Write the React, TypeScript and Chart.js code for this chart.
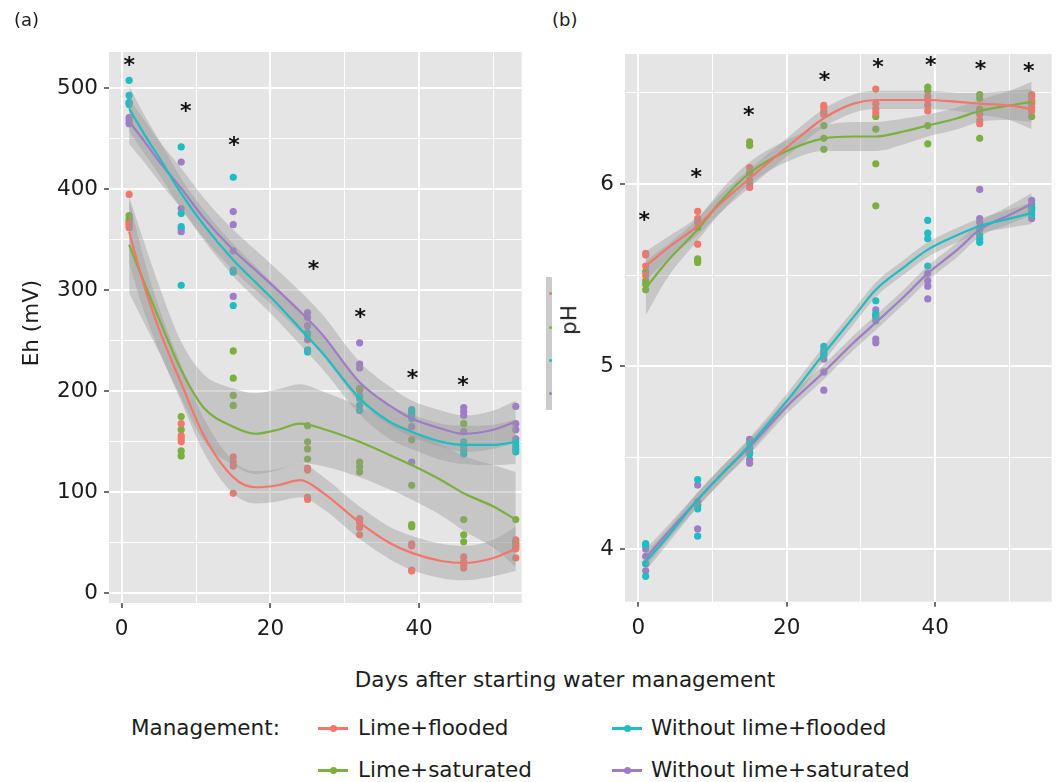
import React, { useEffect, useRef } from "react";
import { Chart, registerables } from "chart.js";

Chart.register(...registerables);

const FONT = "'DejaVu Sans', sans-serif";
const TEXT = "#1c1c1c";
const PANEL_BG = "#E5E5E5";
const BAND = "rgba(153,153,153,0.4)";
const FS = 21.5;

const groupNames = ["Lime+flooded", "Lime+saturated", "Without lime+flooded", "Without lime+saturated"];
const groupColors = ["#F3766B", "#7BAF3E", "#1DBDC2", "#9D7CC8"];

// sampling days (x of the points)
const sampleDays = [1, 8, 15, 25, 32, 39, 46, 53];

// ---- Panel (a): Eh (mV), 4 replicates per day ----
const ehLimeFlooded = [
  [395, 366, 364, 362], [168, 156, 153, 150], [135, 130, 126, 99], [124, 122, 95, 93],
  [74, 70, 65, 58], [49, 47, 23, 22], [36, 31, 28, 25], [53, 46, 44, 35],
];
const ehLimeSaturated = [
  [374, 371, 369, 367], [175, 162, 141, 136], [240, 213, 196, 186], [166, 150, 143, 133],
  [203, 130, 125, 120], [152, 107, 68, 66], [168, 73, 58, 51], [73, 51, 49, 47],
];
const ehNoLimeFlooded = [
  [508, 493, 486, 484], [442, 376, 363, 305], [412, 320, 318, 285], [258, 256, 241, 239],
  [195, 193, 186, 181], [182, 179, 176, 173], [150, 145, 141, 138], [150, 146, 143, 140],
];
const ehNoLimeSaturated = [
  [486, 471, 468, 465], [427, 381, 361, 358], [378, 365, 339, 294], [278, 273, 265, 251],
  [248, 227, 223, 201], [180, 177, 165, 130], [184, 180, 176, 160], [185, 168, 162, 153],
];

// smoothed (loess) curves, with band half-widths
const ehFitDays = [1, 3, 5, 8, 11, 15, 18, 21, 24, 27, 32, 36, 39, 43, 46, 50, 53];
const ehFitLimeFlooded = [358, 305, 262, 208, 157, 115, 105, 107, 112, 100, 70, 50, 40, 32, 30, 35, 44];
const ehFitLimeSaturated = [345, 308, 272, 221, 184, 165, 158, 162, 168, 163, 150, 137, 127, 112, 99, 86, 73];
const ehFitNoLimeFlooded = [480, 455, 432, 396, 365, 330, 308, 286, 262, 238, 193, 170, 160, 150, 147, 147, 150];
const ehFitNoLimeSaturated = [467, 448, 428, 401, 372, 340, 320, 300, 279, 256, 209, 186, 173, 163, 158, 162, 170];
const ehSeLimeFlooded = [32, 26, 21, 18, 17, 16, 16, 16, 17, 16, 16, 16, 17, 17, 17, 18, 22];
const ehSeLimeSaturated = [48, 40, 33, 28, 33, 38, 40, 40, 39, 37, 35, 34, 34, 35, 37, 41, 47];
const ehSeNoLimeFlooded = [22, 19, 17, 15, 15, 16, 16, 16, 16, 16, 16, 17, 17, 18, 19, 20, 22];
const ehSeNoLimeSaturated = [22, 21, 20, 20, 20, 20, 20, 20, 20, 20, 20, 19, 18, 18, 18, 19, 21];

const ehStarDays = [1.0, 8.6, 15.1, 25.8, 32.1, 39.1, 45.9];
const ehStarValues = [529, 483, 449, 327, 279, 219, 212];

// ---- Panel (b): pH ----
const phLimeFlooded = [
  [5.62, 5.61, 5.55, 5.5], [5.85, 5.81, 5.79, 5.67], [6.09, 6.06, 6.0, 5.98], [6.43, 6.42, 6.4, 6.38],
  [6.52, 6.44, 6.41, 6.39], [6.48, 6.46, 6.43, 6.4], [6.4, 6.38, 6.35, 6.33], [6.49, 6.46, 6.42, 6.4],
];
const phLimeSaturated = [
  [5.52, 5.47, 5.45, 5.42], [5.76, 5.59, 5.58, 5.57], [6.23, 6.21, 6.06, 6.02], [6.39, 6.32, 6.25, 6.19],
  [6.37, 6.3, 6.11, 5.88], [6.53, 6.51, 6.32, 6.22], [6.49, 6.47, 6.41, 6.25], [6.48, 6.45, 6.44, 6.37],
];
const phNoLimeFlooded = [
  [4.03, 4.02, 3.92, 3.85], [4.38, 4.24, 4.22, 4.07], [4.58, 4.55, 4.53, 4.52], [5.11, 5.09, 5.08, 5.06],
  [5.36, 5.29, 5.28, 5.27], [5.8, 5.73, 5.7, 5.55], [5.75, 5.72, 5.7, 5.68], [5.87, 5.86, 5.85, 5.83],
];
const phNoLimeSaturated = [
  [4.0, 3.96, 3.92, 3.88], [4.35, 4.26, 4.24, 4.11], [4.6, 4.55, 4.49, 4.47], [5.07, 5.04, 4.97, 4.87],
  [5.31, 5.25, 5.15, 5.13], [5.51, 5.47, 5.44, 5.37], [5.97, 5.81, 5.79, 5.76], [5.91, 5.89, 5.87, 5.81],
];

const phFitDays = [1, 4, 8, 11, 15, 20, 25, 29, 32, 36, 39, 43, 46, 50, 53];
const phFitLimeFlooded = [5.55, 5.65, 5.77, 5.89, 6.03, 6.2, 6.36, 6.44, 6.46, 6.46, 6.46, 6.45, 6.44, 6.43, 6.41];
const phFitLimeSaturated = [5.43, 5.58, 5.75, 5.9, 6.06, 6.18, 6.25, 6.26, 6.26, 6.29, 6.32, 6.36, 6.4, 6.43, 6.45];
const phFitNoLimeFlooded = [3.93, 4.07, 4.27, 4.4, 4.57, 4.81, 5.07, 5.27, 5.42, 5.55, 5.64, 5.72, 5.77, 5.81, 5.84];
const phFitNoLimeSaturated = [3.95, 4.09, 4.27, 4.4, 4.56, 4.78, 4.97, 5.13, 5.24, 5.39, 5.51, 5.64, 5.75, 5.83, 5.89];
const phSeLimeFlooded = [0.08, 0.06, 0.05, 0.05, 0.05, 0.05, 0.05, 0.05, 0.05, 0.05, 0.05, 0.05, 0.06, 0.08, 0.11];
const phSeLimeSaturated = [0.15, 0.09, 0.06, 0.06, 0.06, 0.06, 0.07, 0.08, 0.08, 0.07, 0.06, 0.06, 0.06, 0.08, 0.11];
const phSeNoLimeFlooded = [0.05, 0.04, 0.04, 0.04, 0.04, 0.04, 0.04, 0.04, 0.04, 0.04, 0.04, 0.04, 0.04, 0.05, 0.06];
const phSeNoLimeSaturated = [0.05, 0.04, 0.04, 0.04, 0.04, 0.04, 0.04, 0.04, 0.04, 0.04, 0.04, 0.04, 0.04, 0.05, 0.06];

const phStarDays = [0.8, 7.8, 14.9, 25.1, 32.3, 39.4, 46.1, 52.6];
const phStarValues = [5.83, 6.07, 6.41, 6.6, 6.67, 6.68, 6.66, 6.65];

// ---- ticks ----
const xMajorTicks = [0, 20, 40];
const xMinorTicks = [10, 30, 50];
const ehMajorTicks = [0, 100, 200, 300, 400, 500];
const ehMinorTicks = [50, 150, 250, 350, 450];
const phMajorTicks = [4, 5, 6];
const phMinorTicks = [4.5, 5.5, 6.5];

function buildDatasets(points: number[][][], fits: number[][], ses: number[][], fitDays: number[]) {
  const ds: any[] = [];
  points.forEach((grp, g) => {
    const data: any[] = [];
    grp.forEach((reps, i) => reps.forEach((v) => data.push({ x: sampleDays[i], y: v })));
    ds.push({
      data,
      showLine: false,
      pointRadius: 3.6,
      pointBackgroundColor: groupColors[g],
      pointBorderColor: groupColors[g],
      pointBorderWidth: 0,
      borderColor: "transparent",
      fill: false,
      order: 3,
    });
  });
  fits.forEach((fit, g) => {
    const se = ses[g];
    ds.push({
      data: fitDays.map((d, i) => ({ x: d, y: fit[i] + se[i] })),
      fill: "+1",
      backgroundColor: BAND,
      borderColor: "transparent",
      borderWidth: 0,
      pointRadius: 0,
      cubicInterpolationMode: "monotone",
      order: 2,
    });
    ds.push({
      data: fitDays.map((d, i) => ({ x: d, y: fit[i] - se[i] })),
      fill: false,
      borderColor: "transparent",
      borderWidth: 0,
      pointRadius: 0,
      cubicInterpolationMode: "monotone",
      order: 2,
    });
  });
  fits.forEach((fit, g) => {
    ds.push({
      data: fitDays.map((d, i) => ({ x: d, y: fit[i] })),
      fill: false,
      borderColor: groupColors[g],
      borderWidth: 2.2,
      pointRadius: 0,
      cubicInterpolationMode: "monotone",
      order: 1,
    });
  });
  return ds;
}

const bgPlugin = {
  id: "panelBg",
  beforeDraw(chart: any) {
    const { ctx, chartArea: a } = chart;
    ctx.save();
    ctx.fillStyle = PANEL_BG;
    ctx.fillRect(a.left, a.top, a.right - a.left, a.bottom - a.top);
    ctx.restore();
  },
};

function starPlugin(xs: number[], ys: number[]) {
  return {
    id: "stars",
    afterDatasetsDraw(chart: any) {
      const { ctx, scales } = chart;
      ctx.save();
      ctx.font = `bold 22px ${FONT}`;
      ctx.fillStyle = "#111";
      ctx.textAlign = "center";
      ctx.textBaseline = "alphabetic";
      xs.forEach((d, i) => {
        ctx.fillText("*", scales.x.getPixelForValue(d), scales.y.getPixelForValue(ys[i]) + 12.5);
      });
      ctx.restore();
    },
  };
}

function makeConfig(o: any) {
  const allX = [...xMajorTicks, ...xMinorTicks].sort((a, b) => a - b);
  const allY = [...o.yMajor, ...o.yMinor].sort((a: number, b: number) => a - b);
  const isMajorX = (v: number) => xMajorTicks.includes(v);
  const isMajorY = (v: number) => o.yMajor.includes(v);
  return {
    type: "line",
    data: { datasets: buildDatasets(o.points, o.fits, o.ses, o.fitDays) },
    options: {
      animation: false,
      responsive: false,
      devicePixelRatio: 1,
      events: [],
      layout: { autoPadding: false, padding: { top: o.padTop, right: o.padRight, left: 0, bottom: 0 } },
      plugins: { legend: { display: false }, tooltip: { enabled: false } },
      scales: {
        x: {
          type: "linear",
          min: o.xMin,
          max: o.xMax,
          afterBuildTicks: (s: any) => {
            s.ticks = allX.map((v) => ({ value: v }));
          },
          afterFit: (s: any) => {
            s.height = o.xAxisHeight;
          },
          ticks: {
            autoSkip: false,
            maxRotation: 0,
            padding: 9,
            color: TEXT,
            font: { family: FONT, size: FS },
            callback: (v: number) => (isMajorX(v) ? String(v) : ""),
          },
          grid: {
            color: "#FFFFFF",
            lineWidth: (c: any) => (c.tick && isMajorX(c.tick.value) ? 2 : 1),
            tickColor: (c: any) => (c.tick && isMajorX(c.tick.value) ? "#333" : "transparent"),
            tickLength: 5,
            tickWidth: 1.4,
          },
          border: { display: false },
        },
        y: {
          type: "linear",
          min: o.yMin,
          max: o.yMax,
          afterBuildTicks: (s: any) => {
            s.ticks = allY.map((v: number) => ({ value: v }));
          },
          afterFit: (s: any) => {
            s.width = o.yAxisWidth;
          },
          ticks: {
            autoSkip: false,
            padding: 6,
            color: TEXT,
            font: { family: FONT, size: FS },
            callback: (v: number) => (isMajorY(v) ? String(v) : ""),
          },
          grid: {
            color: "#FFFFFF",
            lineWidth: (c: any) => (c.tick && isMajorY(c.tick.value) ? 2 : 1),
            tickColor: (c: any) => (c.tick && isMajorY(c.tick.value) ? "#333" : "transparent"),
            tickLength: 5,
            tickWidth: 1.4,
          },
          border: { display: false },
        },
      },
    },
    plugins: [bgPlugin, starPlugin(o.starDays, o.starValues)],
  };
}

function PanelChart({ o, left, width, height }: any) {
  const ref = useRef<HTMLCanvasElement | null>(null);
  useEffect(() => {
    if (!ref.current) return;
    const chart = new Chart(ref.current, makeConfig(o) as any);
    return () => chart.destroy();
  }, []);
  return (
    <canvas
      ref={ref}
      width={width}
      height={height}
      style={{ position: "absolute", left, top: 0, width, height }}
    />
  );
}

const panelA = {
  points: [ehLimeFlooded, ehLimeSaturated, ehNoLimeFlooded, ehNoLimeSaturated],
  fits: [ehFitLimeFlooded, ehFitLimeSaturated, ehFitNoLimeFlooded, ehFitNoLimeSaturated],
  ses: [ehSeLimeFlooded, ehSeLimeSaturated, ehSeNoLimeFlooded, ehSeNoLimeSaturated],
  fitDays: ehFitDays,
  starDays: ehStarDays,
  starValues: ehStarValues,
  yMajor: ehMajorTicks,
  yMinor: ehMinorTicks,
  xMin: -1.71,
  xMax: 53.8,
  yMin: -9.6,
  yMax: 536,
  padTop: 52,
  padRight: 13.3,
  yAxisWidth: 109,
  xAxisHeight: 57,
};

const panelB = {
  points: [phLimeFlooded, phLimeSaturated, phNoLimeFlooded, phNoLimeSaturated],
  fits: [phFitLimeFlooded, phFitLimeSaturated, phFitNoLimeFlooded, phFitNoLimeSaturated],
  ses: [phSeLimeFlooded, phSeLimeSaturated, phSeNoLimeFlooded, phSeNoLimeSaturated],
  fitDays: phFitDays,
  starDays: phStarDays,
  starValues: phStarValues,
  yMajor: phMajorTicks,
  yMinor: phMinorTicks,
  xMin: -1.79,
  xMax: 55.7,
  yMin: 3.711,
  yMax: 6.712,
  padTop: 54,
  padRight: 7.3,
  yAxisWidth: 45,
  xAxisHeight: 58.3,
};

const txt = (extra: any) => ({
  position: "absolute" as const,
  fontFamily: FONT,
  fontSize: FS,
  lineHeight: 1,
  color: TEXT,
  whiteSpace: "nowrap" as const,
  ...extra,
});

function LegendKey({ x, y, color }: any) {
  return (
    <>
      <div style={{ position: "absolute", left: x, top: y - 1.5, width: 30, height: 3, background: color }} />
      <div
        style={{
          position: "absolute",
          left: x + 15 - 3.5,
          top: y - 3.5,
          width: 7,
          height: 7,
          borderRadius: "50%",
          background: color,
        }}
      />
    </>
  );
}

export default function App() {
  const legendPos = [
    { kx: 318, tx: 358, y: 728 },
    { kx: 318, tx: 358, y: 770 },
    { kx: 612, tx: 651, y: 728 },
    { kx: 612, tx: 651, y: 770 },
  ];
  const stripDots = [293, 327, 360, 393];
  return (
    <div style={{ position: "absolute", left: 0, top: 0, width: 1059, height: 782, background: "#fff", overflow: "hidden" }}>
      <PanelChart o={panelA} left={0} width={535} height={660} />
      <PanelChart o={panelB} left={580} width={479} height={660} />
      <div style={txt({ left: 14, top: 11, fontSize: 18 })}>(a)</div>
      <div style={txt({ left: 552, top: 11, fontSize: 18 })}>(b)</div>
      <div style={txt({ left: 31, top: 323, transform: "translate(-50%, -50%) rotate(-90deg)" })}>Eh (mV)</div>
      {/* squeezed key strip next to panel (b) */}
      <div style={{ position: "absolute", left: 546, top: 277, width: 6, height: 133, background: "#CBCBCB" }} />
      {stripDots.map((y, i) => (
        <div
          key={i}
          style={{ position: "absolute", left: 548.5, top: y - 1.5, width: 3, height: 3, borderRadius: "50%", background: groupColors[i] }}
        />
      ))}
      <div style={txt({ left: 569, top: 320, transform: "translate(-50%, -50%) rotate(-90deg)" })}>pH</div>
      <div style={txt({ left: 565, top: 680, transform: "translate(-50%, -50%)" })}>Days after starting water management</div>
      <div style={txt({ left: 131, top: 728, transform: "translateY(-50%)" })}>Management:</div>
      {groupNames.map((name, i) => (
        <React.Fragment key={name}>
          <LegendKey x={legendPos[i].kx} y={legendPos[i].y} color={groupColors[i]} />
          <div style={txt({ left: legendPos[i].tx, top: legendPos[i].y, transform: "translateY(-50%)" })}>{name}</div>
        </React.Fragment>
      ))}
    </div>
  );
}
